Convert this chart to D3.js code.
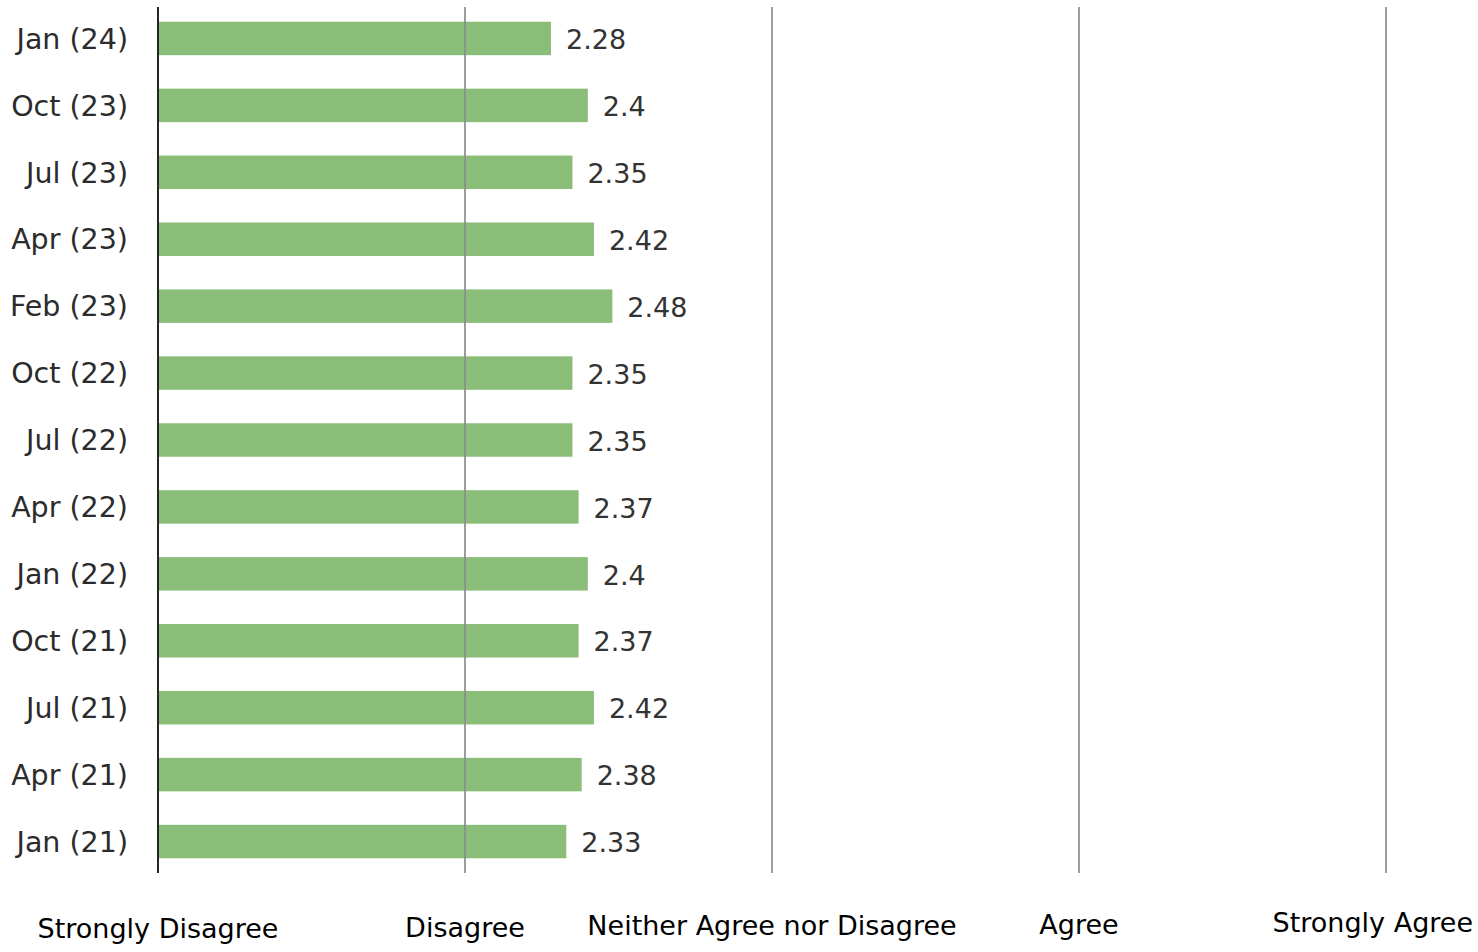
<!DOCTYPE html>
<html>
<head>
<meta charset="utf-8">
<script src="https://cdn.jsdelivr.net/npm/d3@7"></script>
<style>
  html, body { margin: 0; padding: 0; background: #ffffff; }
  svg text { font-family: "DejaVu Sans", sans-serif; }
</style>
</head>
<body>
<svg id="chart" width="1478" height="952"></svg>
<script>
const categories = ["Jan (24)", "Oct (23)", "Jul (23)", "Apr (23)", "Feb (23)", "Oct (22)", "Jul (22)", "Apr (22)", "Jan (22)", "Oct (21)", "Jul (21)", "Apr (21)", "Jan (21)"];
const values = [2.28, 2.4, 2.35, 2.42, 2.48, 2.35, 2.35, 2.37, 2.4, 2.37, 2.42, 2.38, 2.33];
const tickValues = [1, 2, 3, 4, 5];
const tickLabels = ["Strongly Disagree", "Disagree", "Neither Agree nor Disagree", "Agree", "Strongly Agree"];

const svg = d3.select("#chart");
const W = 1478;
const plotLeft = 158, plotRight = 1386, plotTop = 7, plotBottom = 873;

const x = d3.scaleLinear().domain([1, 5]).range([plotLeft, plotRight]);
const y = d3.scaleBand().domain(categories).range([5, 875]).paddingInner(0.5).paddingOuter(0.25);

// bars
svg.append("g").selectAll("rect").data(categories).join("rect")
  .attr("x", x(1))
  .attr("y", d => y(d))
  .attr("width", (d, i) => x(values[i]) - x(1))
  .attr("height", y.bandwidth())
  .attr("fill", "#8abd78");

// gridlines
svg.append("g").selectAll("line").data(tickValues.slice(1)).join("line")
  .attr("x1", d => x(d)).attr("x2", d => x(d))
  .attr("y1", plotTop).attr("y2", plotBottom)
  .attr("stroke", "#8c8c8c").attr("stroke-opacity", 0.85).attr("stroke-width", 2);

// y axis line
svg.append("line")
  .attr("x1", x(1)).attr("x2", x(1))
  .attr("y1", plotTop).attr("y2", plotBottom)
  .attr("stroke", "#262626").attr("stroke-width", 2);

// category labels
svg.append("g").selectAll("text").data(categories).join("text")
  .attr("x", 128)
  .attr("y", d => y(d) + y.bandwidth() / 2)
  .attr("dy", "0.36em")
  .attr("text-anchor", "end")
  .attr("font-size", 28.5)
  .attr("fill", "#2b2b2b")
  .text(d => d);

// value labels
svg.append("g").selectAll("text").data(categories).join("text")
  .attr("x", (d, i) => x(values[i]) + 15)
  .attr("y", d => y(d) + y.bandwidth() / 2 + 1)
  .attr("dy", "0.36em")
  .attr("font-size", 27)
  .attr("fill", "#333333")
  .text((d, i) => String(values[i]));

// x tick labels
const tl = svg.append("g").selectAll("text").data(tickValues).join("text")
  .attr("x", d => x(d))
  .attr("y", (d, i) => 938 - 1.5 * i)
  .attr("text-anchor", "middle")
  .attr("font-size", 27)
  .attr("fill", "#000000")
  .text((d, i) => tickLabels[i]);
tl.each(function(d) {
  const w = this.getComputedTextLength();
  const cx = Math.min(x(d), W - 5 - w / 2);
  d3.select(this).attr("x", cx);
});
</script>
</body>
</html>
